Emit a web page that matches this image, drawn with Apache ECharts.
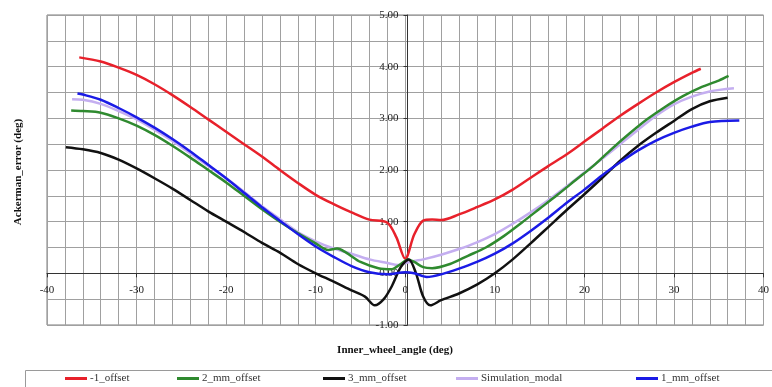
<!DOCTYPE html>
<html>
<head>
<meta charset="utf-8">
<script src="https://cdn.jsdelivr.net/npm/echarts@6/dist/echarts.min.js"></script>
<style>html,body{margin:0;padding:0;background:#fff}#c{width:772px;height:387px}</style>
</head>
<body>
<div id="c"></div>
<script>
var seriesNames = ['-1_offset', '2_mm_offset', '3_mm_offset', 'Simulation_modal', '1_mm_offset'];
var seriesColors = ['#e8212b', '#2f8a2f', '#111111', '#c4aef0', '#1b1be6'];

var redX = [-36.4,-34,-32,-30,-28,-26,-24,-22,-20,-18,-16,-14,-12,-10,-8,-6,-4,-2,-1,0,1,2,3,4,6,8,10,12,14,16,18,20,22,24,26,28,30,32,33];
var redY = [4.18,4.10,3.98,3.84,3.66,3.45,3.22,2.98,2.74,2.50,2.26,2.00,1.75,1.52,1.34,1.18,1.04,0.98,0.70,0.28,0.75,1.02,1.04,1.03,1.14,1.28,1.43,1.62,1.85,2.08,2.30,2.55,2.80,3.05,3.28,3.50,3.70,3.88,3.96];

var greenX = [-37.3,-36,-34,-32,-30,-28,-26,-24,-22,-20,-18,-16,-14,-12,-10,-8.6,-7.6,-6.6,-5,-3,-1.5,-0.5,0.3,1,2,3,5,7,9,11,13,15,17,19,21,23,25,27,29,31,33,35,36.1];
var greenY = [3.15,3.14,3.11,3.00,2.86,2.68,2.47,2.24,2.00,1.76,1.50,1.24,1.00,0.78,0.58,0.45,0.48,0.40,0.22,0.10,0.08,0.18,0.27,0.22,0.12,0.10,0.18,0.34,0.50,0.72,0.98,1.25,1.52,1.80,2.08,2.40,2.70,2.98,3.22,3.43,3.60,3.73,3.82];

var blackX = [-37.9,-36,-34,-32,-30,-28,-26,-24,-22,-20,-18,-16,-14,-12,-10,-8,-6,-4.5,-3.4,-2.4,-1.5,-0.5,0.4,1.2,2,2.8,4,6,8,10,12,14,16,18,20,22,24,26,28,30,32,34,36];
var blackY = [2.44,2.40,2.33,2.20,2.03,1.84,1.64,1.42,1.20,1.00,0.80,0.59,0.40,0.18,0.00,-0.16,-0.33,-0.45,-0.62,-0.50,-0.25,0.12,0.27,0.00,-0.45,-0.62,-0.52,-0.39,-0.22,0.00,0.27,0.58,0.90,1.22,1.53,1.85,2.18,2.47,2.72,2.95,3.18,3.33,3.40];

var simX = [-37.2,-36,-34,-32,-30,-28,-26,-24,-22,-20,-18,-16,-14,-12,-10,-8,-6,-4,-2,-0.8,0,1,2,4,6,8,10,12,14,16,18,20,22,24,26,28,30,32,34,36.7];
var simY = [3.37,3.36,3.28,3.14,2.98,2.78,2.56,2.32,2.08,1.84,1.58,1.30,1.05,0.80,0.62,0.48,0.38,0.27,0.20,0.16,0.20,0.24,0.27,0.36,0.47,0.60,0.76,0.96,1.18,1.42,1.68,1.95,2.22,2.50,2.78,3.05,3.27,3.42,3.52,3.58];

var blueX = [-36.6,-36,-34,-32,-30,-28,-26,-24,-22,-20,-18,-16,-14,-12,-10,-8,-6,-4,-2,0,1,2.4,4,6,8,10,12,14,16,18,20,22,24,26,28,30,32,34,37.3];
var blueY = [3.48,3.46,3.36,3.20,3.02,2.82,2.60,2.36,2.10,1.84,1.56,1.28,1.02,0.76,0.52,0.32,0.14,0.02,-0.02,0.02,0.00,-0.07,-0.02,0.09,0.22,0.38,0.58,0.82,1.08,1.36,1.62,1.90,2.15,2.38,2.57,2.72,2.84,2.93,2.96];

var xTickLabels = [-40,-30,-20,-10,0,10,20,30,40];
var yTickLabels = ['-1.00','0.00','1.00','2.00','3.00','4.00','5.00'];

function pairs(xs, ys) { return xs.map(function (x, i) { return [x, ys[i]]; }); }
var allX = [redX, greenX, blackX, simX, blueX];
var allY = [redY, greenY, blackY, simY, blueY];

var FONT = "'Liberation Serif', 'DejaVu Serif', serif";
var legendLefts = [65, 177, 323, 456, 636];

var G = {left: 47, right: 4, top: 15, bottom: 62};
var W = 772, H = 387;
var XMIN = -40, XMAX = 40, YMIN = -1, YMAX = 5;
// shift axes so they cross at zero
var yAxisOffset = -(W - G.left - G.right) * (0 - XMIN) / (XMAX - XMIN);
var xAxisOffset = -(H - G.top - G.bottom) * (0 - YMIN) / (YMAX - YMIN);

var chart = echarts.init(document.getElementById('c'), null, {renderer: 'canvas'});
var option = {
  animation: false,
  backgroundColor: '#fff',
  grid: {left: G.left, right: G.right, top: G.top, bottom: G.bottom, show: true, borderColor: '#7a7a7a', borderWidth: 1},
  xAxis: {
    type: 'value', min: XMIN, max: XMAX, interval: 10, position: 'bottom', offset: xAxisOffset,
    axisLine: {onZero: false, lineStyle: {color: '#333', width: 1}},
    axisTick: {show: true, length: 4, lineStyle: {color: '#333'}},
    axisLabel: {fontFamily: FONT, fontSize: 11, color: '#1a1a1a', margin: 11,
      formatter: function (v) { return xTickLabels.indexOf(v) >= 0 ? String(v) : ''; }},
    splitLine: {show: true, lineStyle: {color: '#a0a0a0', width: 1}},
    minorTick: {show: false, splitNumber: 5},
    minorSplitLine: {show: true, lineStyle: {color: '#a0a0a0', width: 1}}
  },
  yAxis: {
    type: 'value', min: YMIN, max: YMAX, interval: 1, position: 'left', offset: yAxisOffset,
    axisLine: {onZero: false, lineStyle: {color: '#333', width: 1}},
    axisTick: {show: true, length: 4, lineStyle: {color: '#333'}},
    axisLabel: {fontFamily: FONT, fontSize: 11, color: '#1a1a1a', margin: 9,
      formatter: function (v) { var i = Math.round(v) + 1; return yTickLabels[i] || ''; }},
    splitLine: {show: true, lineStyle: {color: '#a0a0a0', width: 1}},
    minorTick: {show: false, splitNumber: 2},
    minorSplitLine: {show: true, lineStyle: {color: '#a0a0a0', width: 1}}
  },
  legend: seriesNames.map(function (n, i) {
    return {
      data: [n], left: legendLefts[i], top: 373, padding: 0,
      icon: 'rect', itemWidth: 22, itemHeight: 3, itemGap: 0,
      textStyle: {fontFamily: FONT, fontSize: 11, color: '#333', padding: [0, 0, 0, -2]}
    };
  }),
  graphic: [
    {type: 'rect', left: 23, top: 368, shape: {width: 760, height: 30}, style: {fill: 'none', stroke: '#9a9a9a', lineWidth: 1}, z: -1},
    {type: 'text', x: 395, y: 350, style: {text: 'Inner_wheel_angle (deg)', font: "bold 11px 'Liberation Serif', serif", fill: '#111', align: 'center', verticalAlign: 'middle'}},
    {type: 'text', x: 18, y: 172, rotation: Math.PI / 2, style: {text: 'Ackerman_error (deg)', font: "bold 11px 'Liberation Serif', serif", fill: '#111', align: 'center', verticalAlign: 'middle'}}
  ],
  series: seriesNames.map(function (n, i) {
    return {
      name: n, type: 'line', data: pairs(allX[i], allY[i]),
      showSymbol: false, smooth: 0.3,
      lineStyle: {color: seriesColors[i], width: 2.5},
      itemStyle: {color: seriesColors[i]},
      z: 3 + (i === 3 ? -1 : i)
    };
  })
};
chart.setOption(option);
</script>
</body>
</html>
